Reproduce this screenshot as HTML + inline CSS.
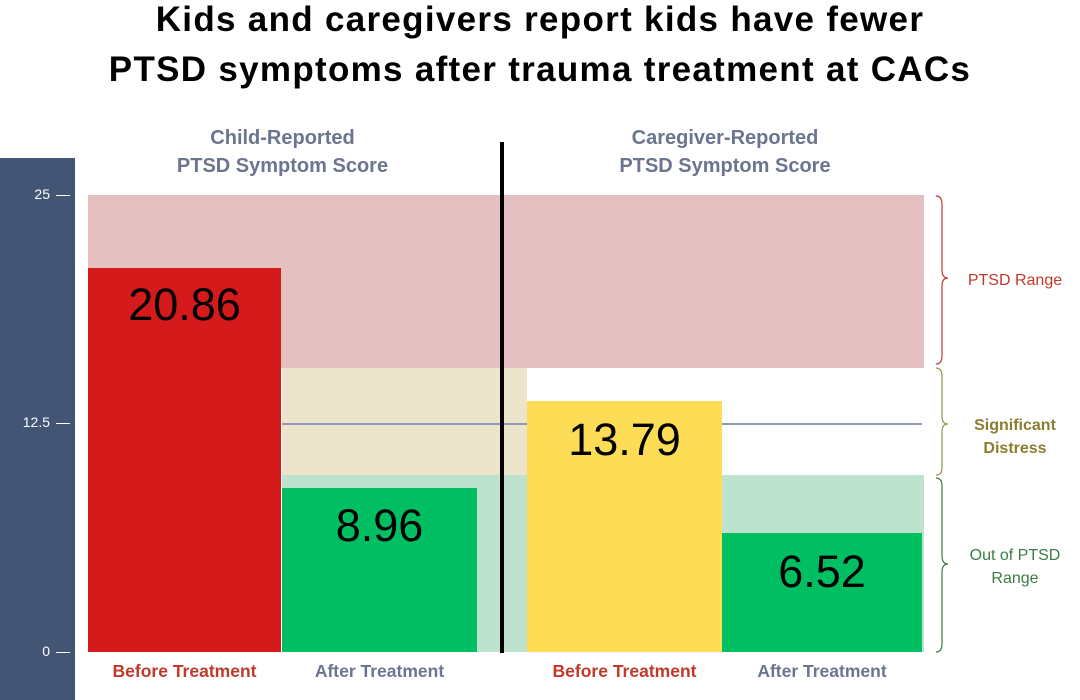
<!DOCTYPE html>
<html><head><meta charset="utf-8"><style>
body{margin:0;width:1080px;height:700px;background:#fff;position:relative;overflow:hidden;font-family:"Liberation Sans",sans-serif}
.a{position:absolute}
.t{left:0;width:1080px;text-align:center;font-weight:bold;font-size:35px;letter-spacing:1.3px;color:#000}
.h{font-weight:bold;font-size:20px;color:#6b7590;text-align:center;line-height:28px}
.v{font-size:45px;color:#000;text-align:center}
.x{font-weight:bold;font-size:17.5px;text-align:center}
.tk{color:#fff;font-size:14px;text-align:right}
</style></head><body>
<div class="a t" style="top:0px">Kids and caregivers report kids have fewer</div>
<div class="a t" style="top:50px">PTSD symptoms after trauma treatment at CACs</div>
<div class="a" style="left:0;top:158px;width:75px;height:542px;background:#435575"></div>
<div class="a tk" style="top:186px;right:1030px">25</div>
<div class="a tk" style="top:414px;right:1030px">12.5</div>
<div class="a tk" style="top:643px;right:1030px">0</div>
<div class="a" style="left:56px;top:195px;width:14px;height:1px;background:#fff"></div>
<div class="a" style="left:56px;top:423px;width:14px;height:1px;background:#fff"></div>
<div class="a" style="left:56px;top:652px;width:14px;height:1px;background:#fff"></div>
<div class="a h" style="left:130px;width:305px;top:124px">Child-Reported<br>PTSD Symptom Score</div>
<div class="a h" style="left:570px;width:310px;top:124px">Caregiver-Reported<br>PTSD Symptom Score</div>
<div class="a" style="left:88px;top:195px;width:836px;height:173px;background:#e5c0c0"></div>
<div class="a" style="left:282px;top:368px;width:245px;height:107px;background:#ede5cb"></div>
<div class="a" style="left:282px;top:475px;width:642px;height:177px;background:#bde2ce"></div>
<div class="a" style="left:282px;top:423px;width:640px;height:2px;background:#8f9ab8"></div>
<div class="a" style="left:88px;top:268px;width:193px;height:384px;background:#d41a1b"></div>
<div class="a" style="left:282px;top:488px;width:195px;height:164px;background:#00bf63"></div>
<div class="a" style="left:527px;top:401px;width:195px;height:251px;background:#fedd56"></div>
<div class="a" style="left:722px;top:533px;width:200px;height:119px;background:#00bf63"></div>
<div class="a" style="left:500px;top:142px;width:4px;height:511px;background:#000"></div>
<div class="a v" style="left:88px;width:193px;top:279px">20.86</div>
<div class="a v" style="left:282px;width:195px;top:500px">8.96</div>
<div class="a v" style="left:527px;width:195px;top:414px">13.79</div>
<div class="a v" style="left:722px;width:200px;top:546px">6.52</div>
<div class="a x" style="left:88px;width:193px;top:661px;color:#c0392b">Before Treatment</div>
<div class="a x" style="left:282px;width:195px;top:661px;color:#6b7590">After Treatment</div>
<div class="a x" style="left:527px;width:195px;top:661px;color:#c0392b">Before Treatment</div>
<div class="a x" style="left:722px;width:200px;top:661px;color:#6b7590">After Treatment</div>
<svg class="a" style="left:930px;top:190px" width="30" height="470" fill="none" stroke-width="1.2">
<path d="M6 6 Q12 6 12 14 V80 Q12 88 18 88 Q12 88 12 96 V166 Q12 174 6 174" stroke="#c0392b"/>
<path d="M6 178 Q12 178 12 186 V226 Q12 234 18 234 Q12 234 12 242 V278 Q12 285 6 285" stroke="#9b9150"/>
<path d="M6 288 Q12 288 12 296 V366 Q12 374 18 374 Q12 374 12 382 V454 Q12 462 6 462" stroke="#3a7d44"/>
</svg>
<div class="a" style="left:955px;width:120px;top:272px;text-align:center;color:#c0392b;font-size:16px">PTSD Range</div>
<div class="a" style="left:955px;width:120px;top:414px;text-align:center;color:#8c7d2e;font-size:16px;font-weight:bold;line-height:23px">Significant<br>Distress</div>
<div class="a" style="left:955px;width:120px;top:544px;text-align:center;color:#3a7d44;font-size:16px;line-height:23px">Out of PTSD<br>Range</div>
</body></html>
